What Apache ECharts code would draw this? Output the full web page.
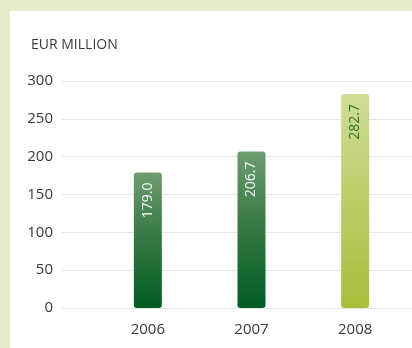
<!DOCTYPE html>
<html><head><meta charset="utf-8">
<script src="https://cdn.jsdelivr.net/npm/echarts@6/dist/echarts.min.js"></script>
<style>
html,body{margin:0;padding:0;background:#e4ebca;}
#panel{position:absolute;left:10px;top:11px;width:402px;height:337px;background:#fff;}
#c{position:absolute;left:0;top:0;width:412px;height:348px;}
</style></head>
<body><div id="panel"></div><div id="c"></div>
<script>
const categories = ['2006', '2007', '2008'];
const values = [179.0, 206.7, 282.7];
const yTicks = [0, 50, 100, 150, 200, 250, 300];
const unitLabel = 'EUR MILLION';

const font = 'Open Sans, sans-serif';
const greenGrad = new echarts.graphic.LinearGradient(0,0,0,1,[{offset:0,color:'#6d9c70'},{offset:0.45,color:'#3a7a45'},{offset:1,color:'#005c24'}]);
const limeGrad = new echarts.graphic.LinearGradient(0,0,0,1,[{offset:0,color:'#d0dc96'},{offset:1,color:'#a8be3a'}]);

const chart = echarts.init(document.getElementById('c'), null, {renderer:'canvas'});
chart.setOption({
  animation:false,
  backgroundColor:'transparent',
  title:{text:unitLabel,left:26,top:33,textStyle:{fontFamily:font,fontSize:14,fontWeight:'normal',color:'#3a3a3a'}},
  grid:[
    {left:62,right:0,top:81,bottom:40},
    {left:96,right:5,top:81,bottom:40}
  ],
  xAxis:[
    {gridIndex:0,type:'category',data:categories,show:false},
    {gridIndex:1,type:'category',data:categories,axisLine:{show:false},axisTick:{show:false},
     axisLabel:{fontFamily:font,fontSize:15,color:'#3a3a3a',margin:14}}
  ],
  yAxis:[
    {gridIndex:0,type:'value',min:yTicks[0],max:yTicks[yTicks.length-1],interval:50,
     axisLine:{show:false},axisTick:{show:false},
     axisLabel:{fontFamily:font,fontSize:15,color:'#3a3a3a',margin:9},
     splitLine:{lineStyle:{color:'#e6e6e6',width:1}}},
    {gridIndex:1,type:'value',min:yTicks[0],max:yTicks[yTicks.length-1],interval:50,show:false,splitLine:{show:false}}
  ],
  series:[{
    type:'bar',xAxisIndex:1,yAxisIndex:1,barWidth:28,
    data:values.map((v,i)=>({value:v,
      itemStyle:{color:i===2?limeGrad:greenGrad,borderRadius:3},
      label:{color:i===2?'#267326':'#ffffff'}})),
    label:{show:true,position:'insideTop',rotate:90,align:'right',verticalAlign:'middle',distance:10,
      fontFamily:font,fontSize:14,formatter:p=>p.value.toFixed(1)}
  }]
});
</script></body></html>
